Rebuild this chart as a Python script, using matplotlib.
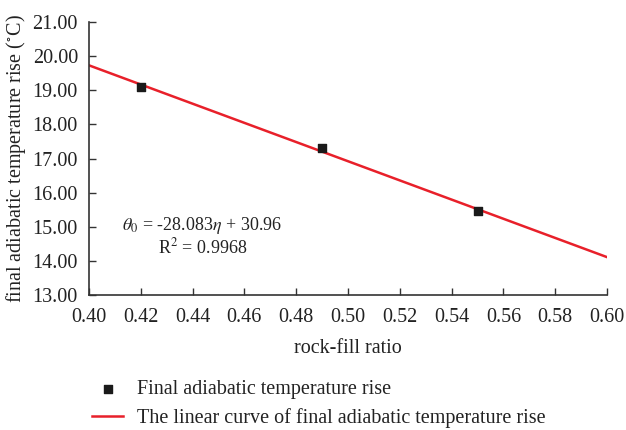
import matplotlib.pyplot as plt

plt.rcParams['font.family'] = ['Liberation Serif', 'DejaVu Serif']
plt.rcParams['mathtext.fontset'] = 'stix'

# measured points
ratio = [0.42, 0.49, 0.55]
rise = [19.10, 17.32, 15.45]
# fitted line ends (theta0 = -28.083 eta + 30.96)
fit_x = [0.40, 0.60]
fit_y = [19.73, 14.11]

xticks = [0.40, 0.42, 0.44, 0.46, 0.48, 0.50, 0.52, 0.54, 0.56, 0.58, 0.60]
yticks = [13, 14, 15, 16, 17, 18, 19, 20, 21]

fig = plt.figure(figsize=(6.26, 4.30), dpi=100)
ax = fig.add_axes([89/626, 1 - 295/430, (607-89)/626, (295-22)/430])

ax.plot(fit_x, fit_y, color='#e8202a', lw=1.8, zorder=2,
        label='The linear curve of final adiabatic temperature rise')
ax.scatter(ratio, rise, marker='s', s=40, color='#1a1a1a', zorder=3,
           label='Final adiabatic temperature rise')

ax.set_xlim(0.40, 0.60)
ax.set_ylim(13, 21)
ax.set_xticks(xticks)
ax.set_yticks(yticks)
ax.set_xticklabels([f"{v:.2f}" for v in xticks])
ax.set_yticklabels([f"{v:.2f}" for v in yticks])
ax.tick_params(direction='in', length=5, width=1, colors='#333333',
               labelsize=14.5, labelcolor='#222222', pad=8)
ax.tick_params(axis='x', pad=9)
for s in ['top', 'right']:
    ax.spines[s].set_visible(False)
for s in ['left', 'bottom']:
    ax.spines[s].set_color('#333333')
    ax.spines[s].set_linewidth(1.2)

ax.set_xlabel('rock-fill ratio', fontsize=14.5, color='#222222', labelpad=9)
ax.set_ylabel('final adiabatic temperature rise ($^{\\circ}$C)', fontsize=14.5,
              color='#222222', labelpad=3)

ax.text(0.4438, 15.04, r'$\theta_0$ = -28.083$\eta$ + 30.96', ha='center',
        va='center', fontsize=13, color='#222222')
ax.text(0.4438, 14.40, r'R$^2$ = 0.9968', ha='center', va='center',
        fontsize=13, color='#222222')

h, l = ax.get_legend_handles_labels()
fig.legend(h[::-1], l[::-1], loc='upper left', bbox_to_anchor=(74/626, 1 - 362/430),
           frameon=False, fontsize=14.5, handlelength=1.55, labelspacing=0.45,
           handletextpad=0.7, labelcolor='#222222')

plt.savefig('out.png', dpi=100)
